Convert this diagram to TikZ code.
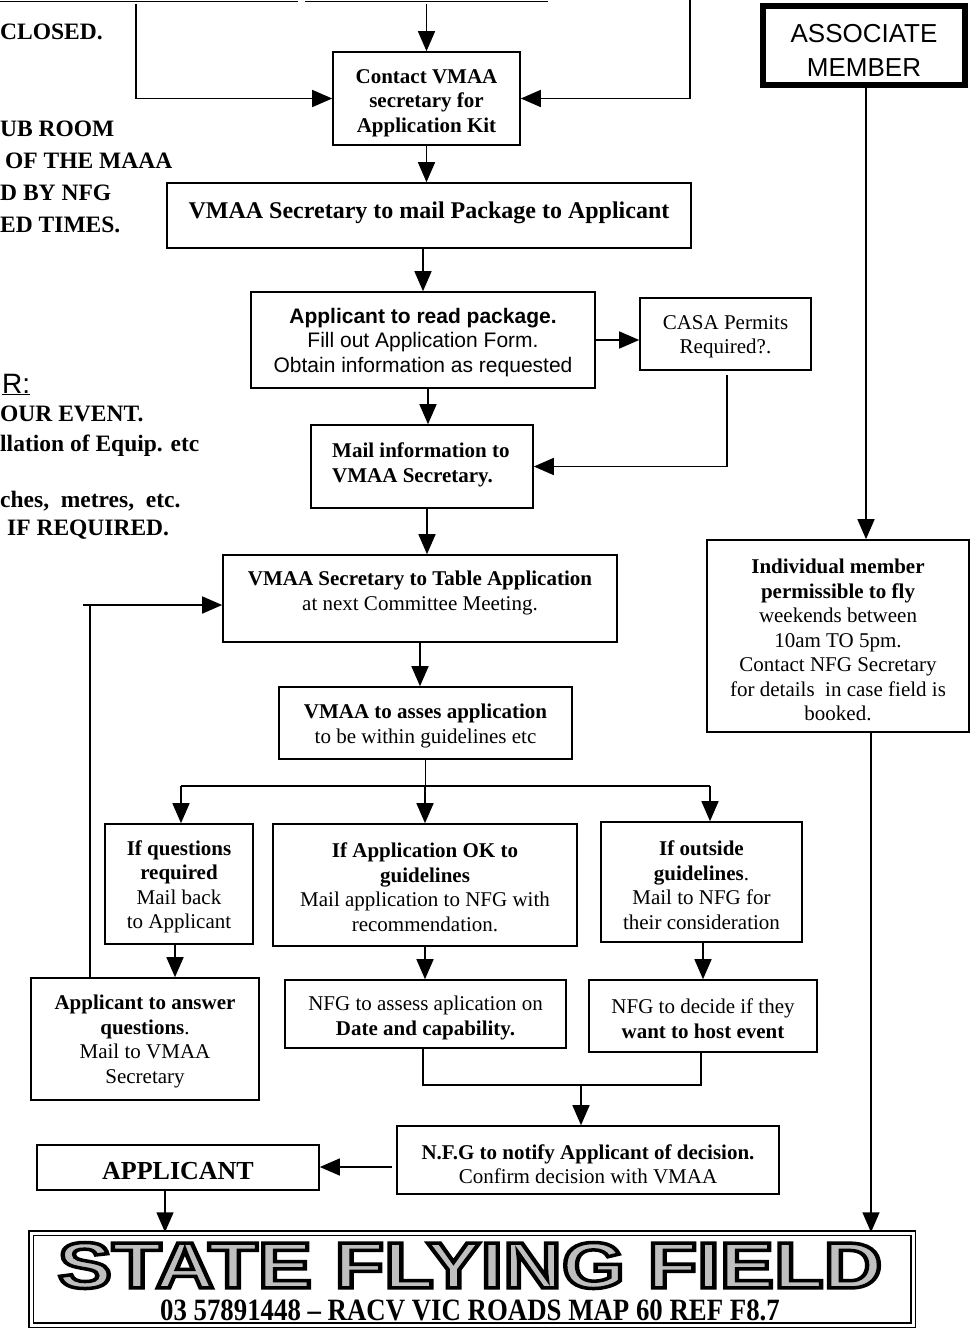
\documentclass[tikz,border=0pt]{standalone}
\usepackage{fontspec}
\setmainfont{Liberation Serif}
\setsansfont{Liberation Sans}
\usetikzlibrary{arrows.meta}
\begin{document}
\begin{tikzpicture}[x=1pt,y=-1pt,
  box/.style={draw, line width=1.6pt, inner sep=0pt},
  txt/.style={inner sep=0pt, align=center, font=\fontsize{21}{24.5}\selectfont},
  btxt/.style={inner sep=0pt, align=center, font=\fontsize{21}{24.5}\selectfont\bfseries},
  lt/.style={inner sep=0pt, anchor=base west, font=\fontsize{23.5}{28}\selectfont\bfseries},
  ln/.style={line width=1.5pt},
  arr/.style={line width=1.5pt, -{Triangle[length=20pt,width=17pt]}}]
\useasboundingbox (0,0) rectangle (973,1330);

% partial boxes at top edge
\draw[line width=1.6pt] (0,1.5) -- (298,1.5);
\draw[line width=1.6pt] (305,1.5) -- (548,1.5);

% left clipped texts
\node[lt] (l1) at (0,40) {CLOSED.};
\node[lt] (l2) at (0,136) {UB ROOM};
\node[lt] (l3) at (5,168) {OF THE MAAA};
\node[lt] (l4) at (0,200) {D BY NFG};
\node[lt] (l5) at (0,232) {ED TIMES.};
\node[inner sep=0pt, anchor=base west, font=\fontsize{28}{30}\selectfont\sffamily] (l6) at (2,393) {\underline{R:}};
\node[lt] (l7) at (0,421) {OUR EVENT.};
\node[lt] (l8) at (0,451) {llation of Equip. etc};
\node[lt] (l9) at (0,507) {ches,\ \ metres,\ \ etc.};
\node[lt] (l10) at (7,535) {IF REQUIRED.};

% boxes
\node[box, minimum width=187pt, minimum height=93pt] (contact) at (426.5,98.5) {};
\node[box, minimum width=524pt, minimum height=65pt] (mailpkg) at (429,215.5) {};
\node[box, minimum width=344pt, minimum height=96pt] (readpkg) at (423,340) {};
\node[box, minimum width=171pt, minimum height=72pt] (casa) at (725.5,334) {};
\node[box, minimum width=222pt, minimum height=83pt] (mailinfo) at (422,466.5) {};
\node[box, minimum width=394pt, minimum height=87pt] (table) at (420,598.5) {};
\node[box, minimum width=293pt, minimum height=72pt] (asses) at (425.5,723) {};
\node[box, minimum width=148pt, minimum height=120pt] (ifq) at (179,884) {};
\node[box, minimum width=304pt, minimum height=122pt] (ifok) at (425,885) {};
\node[box, minimum width=201pt, minimum height=120pt] (ifout) at (701.5,882) {};
\node[box, minimum width=228pt, minimum height=122pt] (answer) at (145,1039) {};
\node[box, minimum width=281pt, minimum height=68pt] (nfgassess) at (425.5,1014) {};
\node[box, minimum width=228pt, minimum height=72pt] (nfgdecide) at (703,1016) {};
\node[box, minimum width=382pt, minimum height=68pt] (notify) at (588,1160) {};
\node[box, minimum width=282pt, minimum height=45pt] (applicant) at (178,1167.5) {};
\node[draw, double, double distance=3pt, line width=1.5pt, minimum width=882pt, minimum height=92pt, inner sep=0pt] (state) at (472,1279) {};
\node[draw, line width=6pt, minimum width=202pt, minimum height=79pt, inner sep=0pt] (assoc) at (864,45.5) {};
\node[box, minimum width=262pt, minimum height=192pt] (indiv) at (838,636) {};

% texts
\node[btxt] (contact-t) at (426.5,103) {Contact VMAA\\secretary for\\Application Kit};
\node[btxt, font=\fontsize{24}{28}\selectfont\bfseries] (mailpkg-t) at (429,213) {VMAA Secretary to mail Package to Applicant};
\node[txt, font=\fontsize{21}{24.5}\selectfont\sffamily] (readpkg-t) at (423,342.5) {\textbf{Applicant to read package.}\\Fill out Application Form.\\Obtain information as requested};
\node[txt] (casa-t) at (725.5,337) {CASA Permits\\Required?.};
\node[btxt, align=left, anchor=west] (mailinfo-t) at (332,465) {Mail information to\\VMAA Secretary.};
\node[txt] (table-t) at (420,593) {\textbf{VMAA Secretary to Table Application}\\at next Committee Meeting.};
\node[txt] (asses-t) at (425.5,726) {\textbf{VMAA to asses application}\\to be within guidelines etc};
\node[txt] (ifq-t) at (179,887) {\textbf{If questions}\\\textbf{required}\\Mail back\\to Applicant};
\node[txt] (ifok-t) at (425,887) {\textbf{If Application OK to}\\\textbf{guidelines}\\Mail application to NFG with\\recommendation.};
\node[txt] (ifout-t) at (701.5,885) {\textbf{If outside}\\\textbf{guidelines}.\\Mail to NFG for\\their consideration};
\node[txt] (answer-t) at (145,1041.5) {\textbf{Applicant to answer}\\\textbf{questions}.\\Mail to VMAA\\Secretary};
\node[txt] (nfgassess-t) at (425.5,1018) {NFG to assess aplication on\\\textbf{Date and capability.}};
\node[txt] (nfgdecide-t) at (703,1018.5) {NFG to decide if they\\\textbf{want to host event}};
\node[txt] (notify-t) at (588,1164.5) {\textbf{N.F.G to notify Applicant of decision.}\\Confirm decision with VMAA};
\node[btxt, font=\fontsize{26}{30}\selectfont\bfseries] (applicant-t) at (178,1171) {APPLICANT};
\node[txt] (indiv-t) at (838,640) {\textbf{Individual member}\\\textbf{permissible to fly}\\weekends between\\10am TO 5pm.\\Contact NFG Secretary\\for details\ \ in case field is\\booked.};
\node[txt, font=\fontsize{26}{34}\selectfont\sffamily] (assoc-t) at (864,50) {ASSOCIATE\\MEMBER};

\node[inner sep=0pt, font=\fontsize{65}{65}\selectfont\sffamily\bfseries] (title) at (470,1265.5) {\scalebox{1.25}[1]{\special{pdf:literal direct 0 G 0.75 g 3.5 w 2 Tr}STATE FLYING FIELD\special{pdf:literal direct 0 Tr 0 g}}};
\node[inner sep=0pt, font=\fontsize{31}{31}\selectfont\bfseries] (sub) at (470,1310) {\scalebox{0.865}[1]{03 57891448 – RACV VIC ROADS MAP 60 REF F8.7}};

% connectors
\coordinate (s1) at (136,4);
\coordinate (s2) at (426.5,4);
\coordinate (s3) at (690,0);
\draw[arr] (s2) -- (contact.north);
\draw[arr] (s1) |- (contact.west);
\draw[arr] (s3) |- (contact.east);
\draw[arr] (contact.south) -- (contact.south |- mailpkg.north);
\draw[arr] (mailpkg.south -| readpkg.north) -- (readpkg.north);
\draw[arr] (readpkg.east) -- (readpkg.east -| casa.west);
\coordinate (c1) at (727,375);
\draw[arr] (c1) |- (mailinfo.east);
\coordinate (x1) at (428,0);
\draw[arr] (readpkg.south -| x1) -- (x1 |- mailinfo.north);
\coordinate (x2) at (427,0);
\draw[arr] (mailinfo.south -| x2) -- (x2 |- table.north);
\coordinate (q1) at (90,605);
\draw[ln] (answer.north -| q1) -- (q1);
\draw[arr] ([xshift=-7pt]q1) -- (q1 -| table.west);
\draw[arr] (table.south) -- (table.south |- asses.north);
\coordinate (hl) at (181,786);
\coordinate (hr) at (710,786);
\draw[ln] (asses.south) -- (asses.south |- hl);
\draw[ln] (hl) -- (hr);
\draw[arr] (hl) -- (hl |- ifq.north);
\draw[arr] (ifok.north |- hl) -- (ifok.north);
\draw[arr] (hr) -- (hr |- ifout.north);
\coordinate (x3) at (175,0);
\draw[arr] (ifq.south -| x3) -- (x3 |- answer.north);
\draw[arr] (ifok.south) -- (ifok.south |- nfgassess.north);
\draw[arr] (ifout.south -| nfgdecide.north) -- (nfgdecide.north);
\coordinate (b1) at (423,1085);
\coordinate (b2) at (701,1085);
\coordinate (b3) at (581,1085);
\draw[ln] (nfgassess.south -| b1) -- (b1) -- (b2) -- (nfgdecide.south -| b2);
\draw[arr] (b3) -- (b3 |- notify.north);
\coordinate (n1) at (392,1167);
\draw[arr] (n1) -- (n1 -| applicant.east);
\coordinate (ap) at (165,1190);
\draw[arr] (applicant.south -| ap) -- (ap |- state.north);
\coordinate (am) at (866,88);
\draw[arr] (am) -- (am |- indiv.north);
\coordinate (im) at (871,732);
\draw[arr] (im) -- (im |- state.north);
\end{tikzpicture}
\end{document}
